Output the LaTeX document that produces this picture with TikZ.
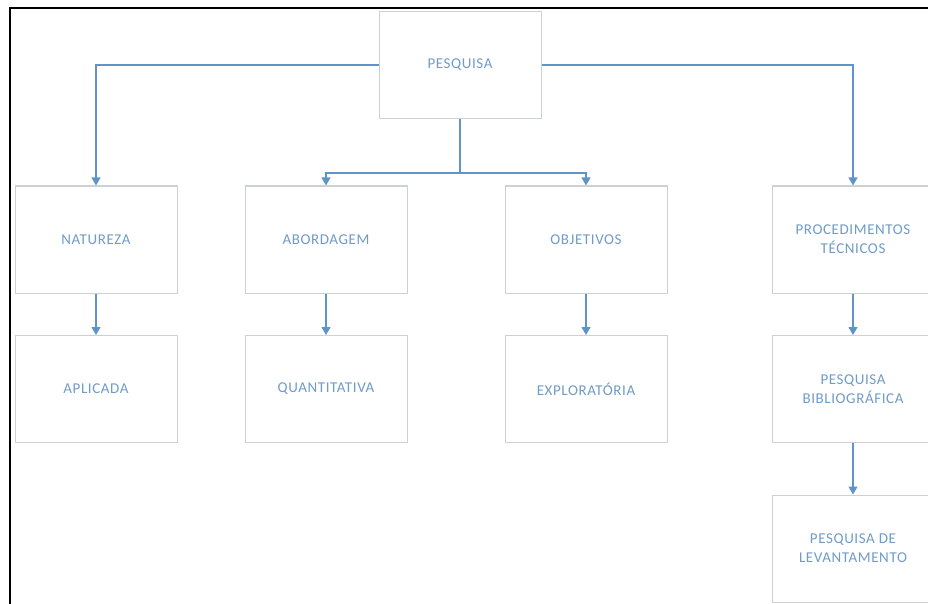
\documentclass[tikz,border=0pt]{standalone}
\usepackage{fontspec}
\setmainfont[LetterSpace=4]{Carlito}
\usetikzlibrary{arrows.meta}
\definecolor{boxline}{RGB}{205,208,212}
\definecolor{txtblue}{RGB}{112,156,200}
\definecolor{linkblue}{RGB}{95,148,202}
\begin{document}
\begin{tikzpicture}[x=1pt, y=-1pt,
  every node/.style={font=\fontsize{15}{19}\selectfont, text=txtblue, align=center},
  box/.style={draw=boxline, line width=1pt, fill=white, minimum width=162pt, minimum height=107pt, inner sep=0pt},
  conn/.style={draw=linkblue, line width=1.1pt, -{Triangle[width=9pt,length=8pt]}}]
  \useasboundingbox (0,0) rectangle (928,604);
  % frame
  \draw[line width=2pt, black] (10,604) -- (10,8) -- (928,8);
  % top
  \node[box] (pesq) at (460,65) {PESQUISA};
  % first row
  \node[box] (nat)  at (96,239.5)  {NATUREZA};
  \node[box] (abor) at (326,239.5) {ABORDAGEM};
  \node[box] (obj)  at (586,239.5) {OBJETIVOS};
  \node[box] (proc) at (853,239.5) {PROCEDIMENTOS\\TÉCNICOS};
  % second row
  \node[box] (apl)  at (96,389)  {APLICADA};
  \node[box] (quan) at (326,389) {QUANTITATIVA};
  \node[box] (expl) at (586,389) {EXPLORATÓRIA};
  \node[box] (bib)  at (853,389) {PESQUISA\\BIBLIOGRÁFICA};
  % third row
  \node[box] (lev)  at (853,548.5) {PESQUISA DE\\LEVANTAMENTO};
  \coordinate (split) at (460,173);
  \draw[conn] (pesq.west) -| (nat.north);
  \draw[conn] (pesq.east) -| (proc.north);
  \draw[conn] (pesq.south) -- (split) -| (abor.north);
  \draw[conn] (split) -| (obj.north);
  \draw[conn] (nat) -- (apl);
  \draw[conn] (abor) -- (quan);
  \draw[conn] (obj) -- (expl);
  \draw[conn] (proc) -- (bib);
  \draw[conn] (bib) -- (lev);
\end{tikzpicture}
\end{document}
